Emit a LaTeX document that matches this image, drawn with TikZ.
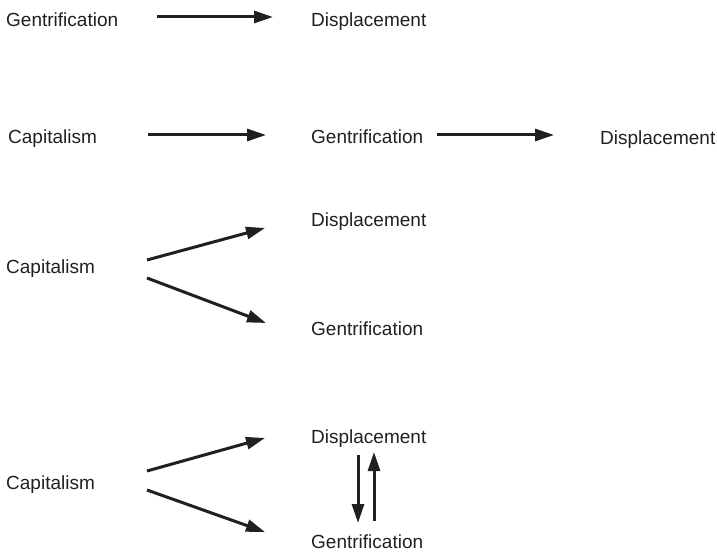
\documentclass[tikz,border=0pt]{standalone}
\usepackage{fontspec}
\setmainfont{Liberation Sans}
\usetikzlibrary{arrows.meta}
\definecolor{ink}{HTML}{231F20}
\begin{document}
\begin{tikzpicture}[x=1pt,y=-1pt,
  lbl/.style={anchor=west,inner sep=0pt,text=ink,yshift=-2.5pt,font=\fontsize{19}{22}\selectfont},
  arr/.style={draw=ink,line width=3pt,-{Triangle[length=19pt,width=12pt]}}]
\useasboundingbox (0,0) rectangle (717,553);
% row 1
\node[lbl] (g1) at (6,17) {Gentrification};
\node[lbl] (d1) at (311,19) {Displacement};
\coordinate (a1s) at (157,17); \coordinate (a1e) at (273,17);
\draw[arr] (a1s) -- (a1e);
% row 2
\node[lbl] (c2) at (8,136) {Capitalism};
\node[lbl] (g2) at (311,134) {Gentrification};
\node[lbl] (d2) at (600,137) {Displacement};
\coordinate (a2s) at (148,135); \coordinate (a2e) at (266,135);
\coordinate (b2s) at (437,135); \coordinate (b2e) at (554,135);
\draw[arr] (a2s) -- (a2e);
\draw[arr] (b2s) -- (b2e);
% row 3
\node[lbl] (c3) at (6,266) {Capitalism};
\node[lbl] (d3) at (311,219) {Displacement};
\node[lbl] (g3) at (311,326) {Gentrification};
\coordinate (a3s) at (147,260); \coordinate (a3e) at (265,228);
\coordinate (b3s) at (147,278); \coordinate (b3e) at (266,323);
\draw[arr] (a3s) -- (a3e);
\draw[arr] (b3s) -- (b3e);
% row 4
\node[lbl] (c4) at (6,482) {Capitalism};
\node[lbl] (d4) at (311,436) {Displacement};
\node[lbl] (g4) at (311,539.5) {Gentrification};
\coordinate (a4s) at (147,471); \coordinate (a4e) at (265,438);
\coordinate (b4s) at (147,490); \coordinate (b4e) at (265,532);
\draw[arr] (a4s) -- (a4e);
\draw[arr] (b4s) -- (b4e);
\coordinate (v1s) at (358,455); \coordinate (v1e) at (358,523);
\coordinate (v2s) at (374,521); \coordinate (v2e) at (374,452);
\draw[arr] (v1s) -- (v1e);
\draw[arr] (v2s) -- (v2e);
\end{tikzpicture}
\end{document}
